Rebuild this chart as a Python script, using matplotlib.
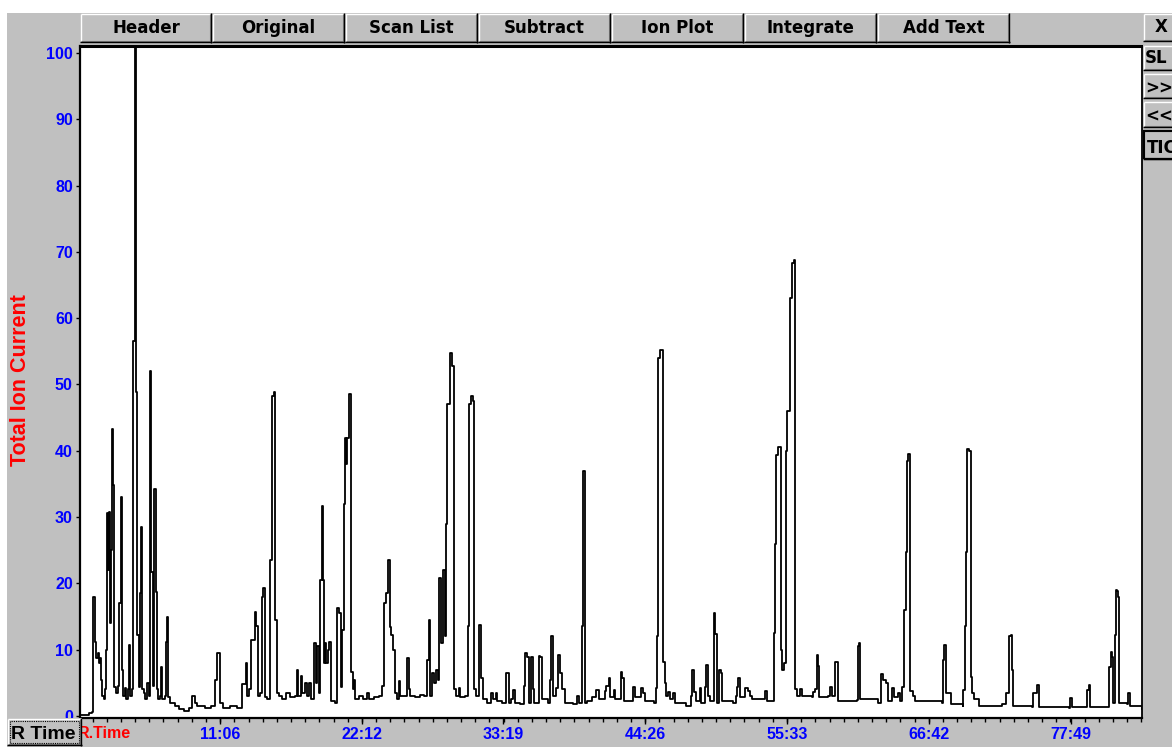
import matplotlib
matplotlib.use("Agg")
import matplotlib.pyplot as plt
from matplotlib.patches import Rectangle
from matplotlib.lines import Line2D
from matplotlib.font_manager import FontProperties

# ---- chromatogram (retention time in minutes, total ion current in %) ----
rt_min = [
    0.13, 0.85, 1.10, 1.17, 1.28, 1.38, 1.50, 1.60, 1.69, 1.77, 1.85, 2.00, 2.09, 2.16,
    2.24, 2.32, 2.40, 2.48, 2.55, 2.63, 2.71, 2.79, 2.95, 3.10, 3.18, 3.32, 3.42, 3.50,
    3.65, 3.75, 3.89, 3.97, 4.05, 4.20, 4.30, 4.40, 4.48, 4.60, 4.71, 4.79, 4.87, 4.95,
    5.10, 5.25, 5.40, 5.55, 5.64, 5.72, 5.85, 5.96, 6.06, 6.16, 6.25, 6.40, 6.50, 6.58,
    6.80, 6.87, 6.94, 7.02, 7.20, 7.55, 7.90, 8.30, 8.70, 8.91, 9.14, 9.30, 9.90, 10.40,
    10.71, 10.87, 11.10, 11.34, 11.90, 12.40, 12.83, 13.10, 13.22, 13.35, 13.55, 13.82,
    13.95, 14.04, 14.20, 14.40, 14.50, 14.63, 14.80, 15.02, 15.17, 15.30, 15.43, 15.55,
    15.70, 15.96, 16.30, 16.60, 16.95, 17.11, 17.20, 17.45, 17.55, 17.80, 17.95, 18.10,
    18.25, 18.50, 18.62, 18.71, 18.85, 18.94, 19.06, 19.15, 19.25, 19.33, 19.42, 19.55,
    19.67, 19.80, 20.10, 20.25, 20.45, 20.58, 20.70, 20.82, 20.92, 21.00, 21.08, 21.18,
    21.25, 21.37, 21.50, 21.60, 21.70, 22.00, 22.30, 22.60, 22.80, 23.20, 23.55, 23.78,
    23.95, 24.14, 24.28, 24.40, 24.52, 24.65, 24.78, 24.95, 25.12, 25.22, 25.55, 25.76,
    25.88, 26.00, 26.40, 26.80, 27.10, 27.30, 27.45, 27.58, 27.72, 27.88, 28.05, 28.20,
    28.30, 28.45, 28.58, 28.70, 28.80, 28.90, 29.10, 29.30, 29.45, 29.60, 29.84, 29.95,
    30.30, 30.52, 30.62, 30.75, 30.95, 31.05, 31.20, 31.40, 31.55, 31.68, 32.00, 32.35,
    32.50, 32.70, 32.85, 33.20, 33.55, 33.72, 33.90, 34.10, 34.22, 34.60, 34.95, 35.05,
    35.15, 35.30, 35.50, 35.62, 35.75, 36.10, 36.22, 36.35, 36.80, 36.97, 37.08, 37.20,
    37.45, 37.62, 37.75, 37.88, 38.00, 38.15, 38.80, 39.07, 39.25, 39.48, 39.58, 39.72,
    39.90, 40.30, 40.55, 40.70, 40.80, 41.25, 41.40, 41.58, 41.70, 41.97, 42.05, 42.50,
    42.65, 42.80, 43.48, 43.60, 44.12, 44.25, 44.45, 45.10, 45.25, 45.33, 45.43, 45.58,
    45.82, 45.95, 46.05, 46.20, 46.40, 46.60, 46.75, 47.60, 48.05, 48.14, 48.26, 48.40,
    48.70, 48.82, 49.10, 49.22, 49.34, 49.50, 49.80, 49.93, 50.05, 50.22, 50.35, 50.48,
    51.30, 51.55, 51.63, 51.75, 51.88, 52.30, 52.48, 52.68, 52.80, 53.80, 53.95, 54.50,
    54.60, 54.70, 54.85, 55.05, 55.18, 55.32, 55.45, 55.58, 55.80, 55.95, 56.10, 56.22,
    56.34, 56.55, 56.70, 57.50, 57.62, 57.76, 57.88, 58.00, 58.10, 58.80, 58.92, 59.05,
    59.30, 59.45, 59.55, 61.05, 61.10, 61.20, 61.30, 62.70, 62.90, 63.05, 63.30, 63.45,
    63.80, 63.95, 64.25, 64.40, 64.60, 64.72, 64.85, 64.95, 65.08, 65.22, 65.40, 65.60,
    67.70, 67.76, 67.88, 68.00, 68.25, 68.40, 69.35, 69.38, 69.50, 69.60, 69.70, 69.85,
    69.95, 70.08, 70.20, 70.60, 72.45, 72.75, 72.98, 73.15, 73.22, 73.28, 74.80, 74.88,
    75.15, 75.28, 77.65, 77.74, 77.90, 79.05, 79.10, 79.21, 79.31, 80.80, 80.82, 80.93,
    81.06, 81.15, 81.27, 81.35, 81.45, 81.53, 81.61, 82.25, 82.27, 82.45, 83.39,
]
tic_pct = [
    0.2, 0.5, 0.6, 18.0, 11.2, 8.7, 9.5, 8.0, 8.7, 5.5, 3.0, 2.6, 4.0, 10.0,
    30.6, 22.0, 30.8, 14.0, 25.0, 43.3, 34.8, 4.4, 3.5, 4.5, 17.0, 33.0, 7.0, 3.0,
    4.2, 2.5, 4.0, 10.7, 3.0, 4.0, 56.5, 101.5, 48.9, 12.2, 4.3, 18.5, 28.5, 4.0,
    3.5, 2.5, 5.0, 3.0, 52.0, 21.7, 4.5, 34.2, 18.7, 4.0, 2.5, 3.0, 7.4, 2.5,
    3.0, 11.1, 14.9, 2.8, 2.0, 1.5, 1.0, 0.8, 1.2, 3.0, 2.0, 1.5, 1.2, 1.5,
    5.4, 9.5, 2.0, 1.2, 1.5, 1.2, 4.8, 8.0, 3.0, 4.0, 11.5, 15.7,
    13.6, 3.0, 3.5, 18.0, 19.3, 2.9, 2.5, 23.5, 48.2, 48.8, 14.5, 3.5,
    3.0, 2.5, 3.5, 2.8, 3.0, 7.0, 3.0, 6.0, 3.5, 5.0, 3.0, 5.0,
    2.5, 11.0, 5.0, 10.5, 3.5, 20.5, 31.7, 20.5, 8.0, 11.0, 8.0, 10.0,
    11.2, 2.2, 2.0, 16.3, 15.5, 4.4, 13.0, 32.0, 42.0, 38.0, 42.0, 44.0,
    48.6, 6.7, 4.0, 5.5, 2.5, 3.0, 2.5, 3.5, 2.5, 2.8, 3.0, 4.5,
    17.0, 18.5, 23.5, 13.4, 12.2, 10.0, 3.5, 2.5, 5.3, 3.0, 3.0, 8.7,
    4.0, 3.0, 2.8, 3.2, 3.0, 8.4, 14.5, 3.0, 6.5, 5.0, 7.0, 5.5,
    20.8, 11.0, 22.0, 12.0, 29.0, 47.0, 54.7, 52.8, 4.0, 3.0, 4.2, 2.8,
    3.0, 13.6, 47.0, 48.3, 47.5, 4.0, 3.0, 13.7, 5.8, 2.5, 2.0, 3.5,
    2.5, 3.5, 2.2, 2.0, 6.5, 2.0, 2.5, 3.9, 2.0, 1.8, 4.5, 9.5,
    8.9, 2.0, 8.9, 4.0, 2.0, 9.0, 8.9, 2.5, 2.0, 5.4, 12.0, 3.0,
    4.2, 9.2, 6.5, 4.0, 4.0, 2.0, 1.8, 3.0, 2.0, 13.6, 37.0, 2.0,
    2.2, 2.8, 3.9, 3.9, 2.5, 3.7, 4.5, 5.7, 2.8, 3.9, 2.5, 6.7,
    5.7, 2.2, 4.4, 2.8, 4.2, 3.5, 2.2, 2.0, 4.2, 12.0, 54.0, 55.2,
    8.2, 5.0, 3.0, 3.6, 2.5, 3.4, 2.0, 1.5, 3.0, 6.9, 3.6, 2.2,
    4.2, 2.0, 4.4, 7.7, 3.0, 2.2, 15.5, 12.3, 2.0, 6.9, 6.5, 2.2,
    2.0, 3.0, 4.4, 5.7, 2.8, 4.2, 3.7, 3.0, 2.5, 3.7, 2.2, 12.5,
    26.0, 39.4, 40.6, 10.0, 7.0, 8.0, 40.0, 46.0, 63.0, 68.3, 68.8, 4.0,
    3.0, 4.0, 3.0, 2.8, 3.6, 4.0, 9.2, 7.5, 2.8, 3.0, 4.4, 3.0,
    8.2, 8.2, 2.2, 2.4, 10.5, 11.0, 2.6, 2.0, 6.4, 5.4, 5.0, 2.2,
    4.2, 2.8, 3.4, 2.2, 4.4, 16.0, 24.8, 38.5, 39.5, 3.7, 3.0, 2.2,
    2.0, 8.4, 10.7, 3.5, 3.5, 1.8, 1.5, 3.9, 13.5, 24.8, 40.2, 40.0,
    5.9, 3.4, 2.5, 1.5, 1.8, 3.4, 12.0, 12.2, 6.9, 1.5, 1.3, 3.4,
    4.7, 1.3, 1.2, 2.7, 1.3, 1.5, 3.9, 4.7, 1.3, 1.3, 7.4, 9.7,
    8.9, 2.0, 12.2, 19.0, 18.9, 18.0, 2.0, 1.8, 3.4, 1.5, 1.1,
]

# ---- axis ticks ----
y_ticks = [0, 10, 20, 30, 40, 50, 60, 70, 80, 90, 100]
x_tick_pos = [11.1, 22.2, 33.317, 44.433, 55.55, 66.7, 77.817]
x_tick_labels = ["11:06", "22:12", "33:19", "44:26", "55:33", "66:42", "77:49"]
x_minor_step = 1.1111

# ---- window controls ----
top_buttons = ["Header", "Original", "Scan List", "Subtract", "Ion Plot", "Integrate", "Add Text"]
side_buttons = ["X", "SL", ">>", "<<", "TIC"]

W, H = 1172, 747
GRAY = "#c0c0c0"
BLUE = "#0000ff"
RED = "#ff0000"

fig = plt.figure(figsize=(W / 100, H / 100), dpi=100, facecolor=GRAY)


def fx(x):
    return x / W


def fy(y):
    return 1 - y / H


def rect(x0, y0, x1, y1, fc, ec="none", lw=0.0, z=1, ls="-"):
    fig.add_artist(Rectangle((fx(x0), fy(y1)), (x1 - x0) / W, (y1 - y0) / H,
                             transform=fig.transFigure, facecolor=fc, edgecolor=ec,
                             linewidth=lw, linestyle=ls, zorder=z))


def seg(xs, ys, color, lw=0.75, z=2, ls="-"):
    fig.add_artist(Line2D([fx(x) for x in xs], [fy(y) for y in ys],
                          transform=fig.transFigure, color=color, linewidth=lw,
                          linestyle=ls, zorder=z, solid_capstyle="butt"))


def bevel(x0, y0, x1, y1, z=2):
    rect(x0, y0, x1, y1, GRAY, z=z)
    seg([x0 + 0.5, x1 - 1], [y0 + 1, y0 + 1], "white", 1.0, z + 0.1)
    seg([x0 + 1, x0 + 1], [y0 + 0.5, y1 - 1], "white", 1.0, z + 0.1)
    seg([x0 + 1, x1 - 1.5], [y1 - 2, y1 - 2], "#808080", 0.8, z + 0.1)
    seg([x1 - 2, x1 - 2], [y0 + 1, y1 - 1.5], "#808080", 0.8, z + 0.1)
    seg([x0, x1], [y1 - 0.7, y1 - 0.7], "black", 1.0, z + 0.2)
    seg([x1 - 0.7, x1 - 0.7], [y0, y1], "black", 1.0, z + 0.2)


# white window margin
rect(0, 0, W, 13, "white", z=0.5)
rect(0, 0, 7, H, "white", z=0.5)

# ---- plot area ----
ax = fig.add_axes([fx(80), fy(718), (1142 - 80) / W, (718 - 46) / H])
ax.set_facecolor("white")
ax.step(rt_min, tic_pct, where="post", color="black", linewidth=1.3)
ax.set_xlim(0.12, 83.39)
ax.set_ylim(-0.3, 101.05)

ax.set_yticks(y_ticks)
ax.set_yticklabels([str(v) for v in y_ticks])
ax.set_xticks(x_tick_pos)
ax.set_xticklabels(x_tick_labels)
minor = [k * x_minor_step for k in range(1, 76) if k * x_minor_step < 83.39]
ax.set_xticks(minor, minor=True)

tick_fp = FontProperties(family="Liberation Sans", weight="bold", size=11.5)
for lab in ax.get_yticklabels() + ax.get_xticklabels():
    lab.set_fontproperties(tick_fp)
ax.tick_params(axis="y", direction="out", length=3.2, width=1.0, pad=2,
               colors="black", labelcolor=BLUE)
ax.tick_params(axis="x", which="major", direction="out", length=4.5, width=1.0,
               pad=1.8, colors="black", labelcolor=BLUE)
ax.tick_params(axis="x", which="minor", direction="out", length=3.2, width=1.0,
               colors="black")

for side, lw in (("left", 1.6), ("bottom", 1.6), ("top", 2.2), ("right", 1.3)):
    ax.spines[side].set_linewidth(lw)
    ax.spines[side].set_color("black")

# ---- axis captions ----
fig.text(fx(31), fy(380), "Total Ion Current", rotation=90, ha="right", va="center",
         color=RED, family="Liberation Sans", weight="bold", fontsize=15.5)
fig.text(fx(78), fy(737.5), "R.Time", ha="left", va="baseline", color=RED,
         family="Liberation Sans", weight="bold", fontsize=11.5, zorder=1)

# ---- toolbar along the top ----
edges = [80, 212, 345, 478, 611, 744, 877, 1010]
for i, name in enumerate(top_buttons):
    x0, x1 = edges[i], edges[i + 1]
    bevel(x0, 13, x1, 43)
    fig.text(fx((x0 + x1) / 2), fy(33.3), name, ha="center", va="baseline",
             family="DejaVu Sans", weight="bold", fontsize=12, color="black", zorder=3)

# ---- side buttons (running past the window edge) ----
side_boxes = [(13, 42), (45, 71), (73, 99), (101, 128), (130, 160)]
side_base = [32.3, 63.3, 93.3, 121.7, 153.0]
side_left = [1155, 1145, 1145, 1145, 1147]
for name, (y0, y1), yb, xl in zip(side_buttons, side_boxes, side_base, side_left):
    bevel(1143, y0, 1192, y1)
    if name == "TIC":
        rect(1144, y0 + 1, 1192, y1 - 1, "none", ec="black", lw=1.6, z=2.5)
    fig.text(fx(xl), fy(yb), name, ha="left", va="baseline",
             family="DejaVu Sans", weight="bold", fontsize=12, color="black", zorder=3)

# ---- "R Time" push button in the lower-left corner ----
bevel(7, 718, 82, 746, z=2)
rect(10, 721, 78.5, 742.5, "none", ec="black", lw=0.8, ls=(0, (1, 1)), z=2.5)
fig.text(fx(11), fy(739.3), "R Time", ha="left", va="baseline",
         family="Liberation Sans", weight="bold", fontsize=14, color="black", zorder=3)

fig.savefig("out.png", dpi=100, facecolor=GRAY)
